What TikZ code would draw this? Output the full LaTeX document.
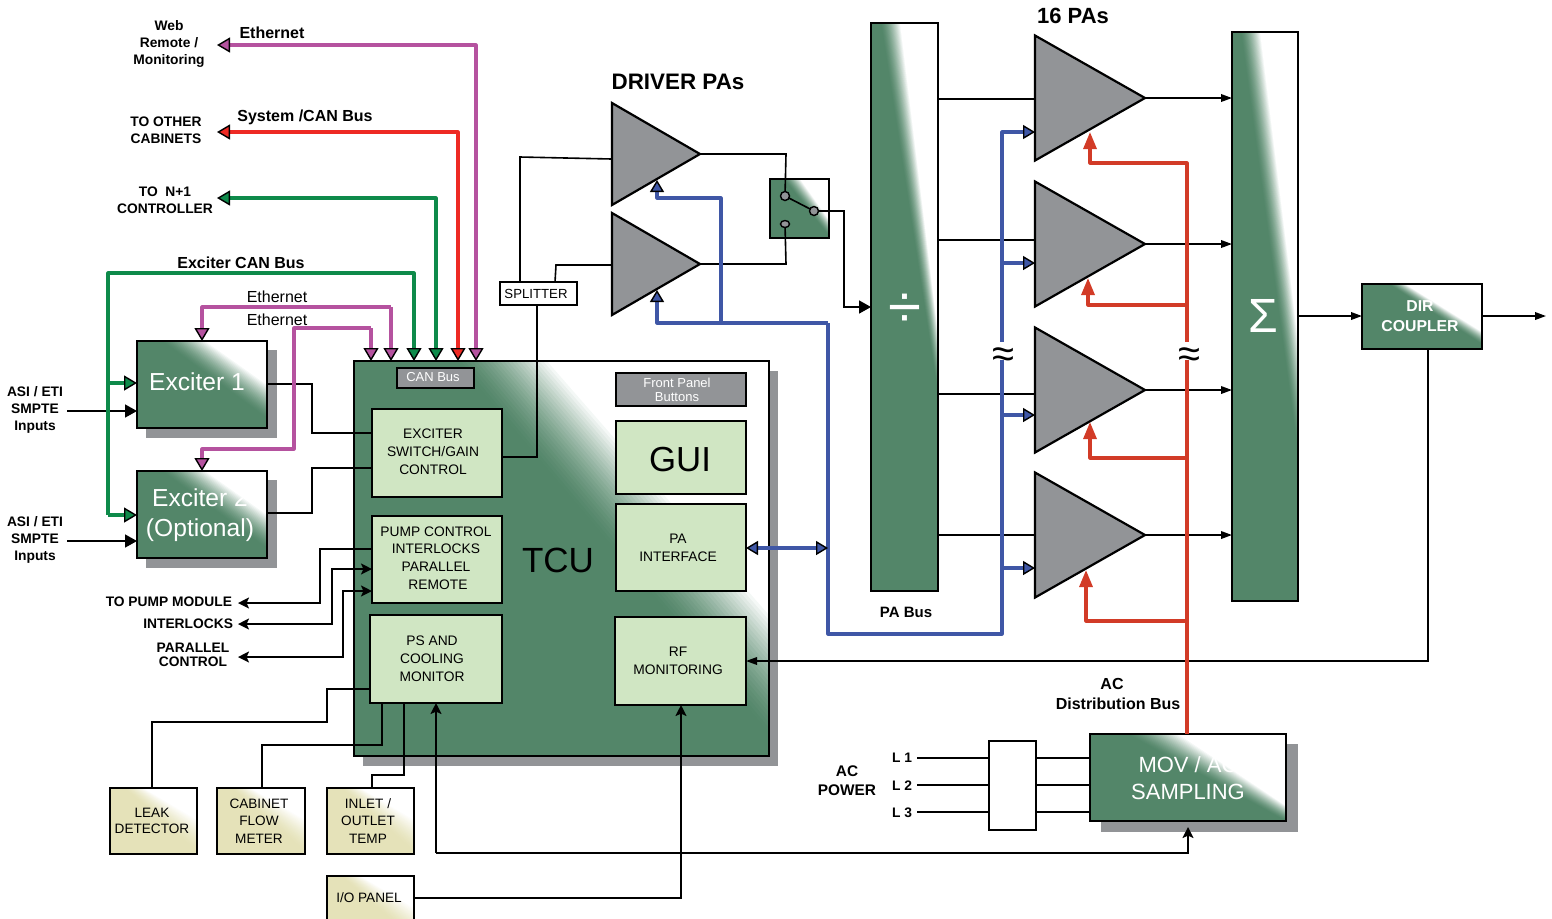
\documentclass[tikz,border=0pt]{standalone}
\usepackage{fontspec}
\setmainfont{Liberation Sans}
\usetikzlibrary{arrows.meta,shapes.geometric}
\definecolor{gn}{HTML}{538669}
\definecolor{shgray}{HTML}{929497}
\definecolor{lgreen}{HTML}{D0E6C3}
\definecolor{beige}{HTML}{E5E2B9}
\definecolor{cpink}{HTML}{B5529F}
\definecolor{cred}{HTML}{EE2A24}
\definecolor{cgrn}{HTML}{0E8A4A}
\definecolor{cblue}{HTML}{3F57A6}
\definecolor{cdred}{HTML}{D23B27}
% diagonal fade towards white in the top right corner
\newcommand\gradfill[9]{%
  \begin{scope}
    \clip (#1,#2) rectangle (#3,#4);
    \fill[#5] (#1,#2) rectangle (#3,#4);
    \foreach \i in {1,...,24}{%
      \pgfmathsetmacro\tt{\i/24}%
      \pgfmathsetmacro\pp{100*(1-\tt^1.5)}%
      \fill[#5!\pp!white] ({#6+(#8-#6)*\tt},#2) -- (#3,{#7+(#9-#7)*\tt}) -- (#3,#2) -- cycle;
    }
  \end{scope}}
\tikzset{
  corners/.style n args={4}{at={({(#1+#3)/2},{(#2+#4)/2})},minimum width={(#3-#1)*0.5pt},minimum height={(#4-#2)*0.5pt}},
  bx/.style={draw=black,line width=1pt,inner sep=0pt,outer sep=0pt,rectangle},
  inner/.style={bx,fill=lgreen},
  grey/.style={bx,fill=shgray,line width=.9pt},
  lbl/.style={inner sep=0pt,outer sep=0pt,align=center,text=black},
  t69/.style={lbl,font=\fontsize{6.9}{8.9}\selectfont},
  t65w/.style={lbl,text=white,font=\fontsize{6.5}{7}\selectfont},
  t68/.style={lbl,font=\fontsize{6.8}{8.8}\selectfont},
  b7/.style={lbl,font=\bfseries\fontsize{6.9}{8.7}\selectfont},
  b8/.style={lbl,font=\bfseries\fontsize{8}{10}\selectfont},
  bigw/.style={lbl,text=white,font=\fontsize{12.3}{15}\selectfont},
  amp/.style={isosceles triangle,isosceles triangle stretches,shape border rotate=0,draw=black,fill=shgray,line width=1.1pt,inner sep=0pt,outer sep=0pt,anchor=lower side},
  wire/.style={draw=black,line width=.8pt,line join=miter},
  arr/.style={wire,-{Triangle[length=6pt,width=6.5pt]}},
  arrs/.style={wire,-{Triangle[length=5.5pt,width=3.8pt]}},
  arrl/.style={wire,-{Stealth[length=5.5pt,width=5.5pt,inset=1.2pt]}},
  hvy/.style={line width=1.6pt,line join=round},
  pinkl/.style={hvy,draw=cpink,-{Triangle[length=6.5pt,width=7.5pt,line width=.7pt,color=black,fill=cpink]}},
  pinkb/.style={hvy,draw=cpink,{Triangle[length=6.5pt,width=7.5pt,line width=.7pt,color=black,fill=cpink]}-{Triangle[length=6.5pt,width=7.5pt,line width=.7pt,color=black,fill=cpink]}},
  redb/.style={hvy,draw=cred,{Triangle[length=6.5pt,width=7.5pt,line width=.7pt,color=black,fill=cred]}-{Triangle[length=6.5pt,width=7.5pt,line width=.7pt,color=black,fill=cred]}},
  grnl/.style={hvy,draw=cgrn,-{Triangle[length=6.5pt,width=7.5pt,line width=.7pt,color=black,fill=cgrn]}},
  grnb/.style={hvy,draw=cgrn,{Triangle[length=6.5pt,width=7.5pt,line width=.7pt,color=black,fill=cgrn]}-{Triangle[length=6.5pt,width=7.5pt,line width=.7pt,color=black,fill=cgrn]}},
  bluel/.style={hvy,draw=cblue,-{Triangle[length=6pt,width=7pt,line width=.7pt,color=black,fill=cblue]}},
  blueb/.style={hvy,draw=cblue,{Triangle[length=6pt,width=7pt,line width=.7pt,color=black,fill=cblue]}-{Triangle[length=6pt,width=7pt,line width=.7pt,color=black,fill=cblue]}},
  dredl/.style={hvy,draw=cdred,-{Triangle[length=8.5pt,width=6.5pt,color=cdred]}},
  contact/.style={circle,draw=black,fill=shgray,line width=.7pt,minimum size=4.5pt,inner sep=0pt,outer sep=0pt},
  contacte/.style={ellipse,draw=black,fill=shgray,line width=.7pt,minimum width=4.5pt,minimum height=3.5pt,inner sep=0pt,outer sep=0pt},
  brk/.style={lbl,fill=white,minimum width=13pt,minimum height=9pt,font=\fontsize{20}{20}\selectfont},
}
\begin{document}
\begin{tikzpicture}[x=0.5pt,y=-0.5pt]
\useasboundingbox (0,0) rectangle (1552,918);
% ---------- shadows
\fill[shgray] (146,350) rectangle (277,438);
\fill[shgray] (146,480) rectangle (277,568);
\fill[shgray] (363,371) rectangle (778,766);
\fill[shgray] (1101,744) rectangle (1298,832);
% ---------- fades
\gradfill{137}{341}{267}{428}{gn}{160}{420}{205}{385}
\gradfill{137}{471}{267}{558}{gn}{160}{550}{205}{515}
\gradfill{354}{361}{769}{756}{gn}{453}{738}{547}{615}
\gradfill{871}{23}{938}{591}{gn}{880}{398}{900}{333}
\gradfill{1232}{32}{1298}{601}{gn}{1240}{460}{1260}{340}
\gradfill{1090}{734}{1286}{821}{gn}{1125}{822}{1178}{806}
\gradfill{1362}{284}{1482}{349}{gn}{1388}{345}{1405}{332}
\gradfill{770}{179}{829}{238}{gn}{783}{237}{800}{220}
\gradfill{110}{788}{197}{854}{beige}{123}{853}{143}{820}
\gradfill{217}{788}{305}{854}{beige}{230}{853}{250}{820}
\gradfill{327}{788}{414}{854}{beige}{340}{853}{360}{820}
\gradfill{327}{876}{414}{930}{beige}{340}{941}{360}{908}
% ---------- boxes
\node[bx,corners={137}{341}{267}{428}] (ex1) {};
\node[bx,corners={137}{471}{267}{558}] (ex2) {};
\node[bx,corners={354}{361}{769}{756}] (tcu) {};
\node[grey,corners={397}{368}{474}{388}] (can) {};
\node[grey,corners={616}{373}{746}{406}] (fp) {};
\node[inner,corners={372}{409}{502}{497}] (esw) {};
\node[inner,corners={372}{516}{502}{603}] (pump) {};
\node[inner,corners={370}{615}{502}{703}] (ps) {};
\node[inner,corners={616}{421}{746}{494}] (gui) {};
\node[inner,corners={616}{504}{746}{591}] (paif) {};
\node[inner,corners={615}{617}{746}{705}] (rf) {};
\node[bx,corners={110}{788}{197}{854}] (leak) {};
\node[bx,corners={217}{788}{305}{854}] (cab) {};
\node[bx,corners={327}{788}{414}{854}] (inl) {};
\node[bx,corners={327}{876}{414}{930}] (io) {};
\node[bx,line width=.9pt,fill=white,corners={500}{282}{577}{305}] (split) {};
\node[bx,line width=.9pt,corners={770}{179}{829}{238}] (sw) {};
\node[bx,corners={871}{23}{938}{591}] (div) {};
\node[bx,corners={1232}{32}{1298}{601}] (sum) {};
\node[bx,corners={1362}{284}{1482}{349}] (dir) {};
\node[bx,corners={1090}{734}{1286}{821}] (mov) {};
\node[bx,fill=white,line width=.9pt,corners={989}{741}{1036}{830}] (acbox) {};
% ---------- free ends
\coordinate (eth0) at (217,45);
\coordinate (sys0) at (217,132);
\coordinate (npl0) at (217,198);
\coordinate (in1) at (67,411);
\coordinate (in2) at (67,541);
\coordinate (pumpout) at (238,603);
\coordinate (intout) at (238,624);
\coordinate (parout) at (238,657);
\coordinate (l1) at (917,758);
\coordinate (l2) at (917,785);
\coordinate (l3) at (917,812);
\coordinate (rfout) at (1546,316);
% ---------- amplifiers
\node[amp,minimum height=88*0.5pt,minimum width=102*0.5pt] (d1) at (612,154) {};
\node[amp,minimum height=88*0.5pt,minimum width=102*0.5pt] (d2) at (612,264) {};
\node[amp,minimum height=110*0.5pt,minimum width=125*0.5pt] (p1) at (1035,98) {};
\node[amp,minimum height=110*0.5pt,minimum width=125*0.5pt] (p2) at (1035,244) {};
\node[amp,minimum height=110*0.5pt,minimum width=125*0.5pt] (p3) at (1035,390) {};
\node[amp,minimum height=110*0.5pt,minimum width=125*0.5pt] (p4) at (1035,535) {};
% ---------- switch
\node[contact] (c1) at (785,196) {};
\node[contact] (c2) at (814,211) {};
\node[contacte] (c3) at (785,224) {};
% ---------- black wiring
\draw[wire] (ex1.east |- 0,384) -- (312,384) -- (312,433) -- (esw.west |- 0,433);
\draw[wire] (ex2.east |- 0,513) -- (312,513) -- (312,468) -- (esw.west |- 0,468);
\draw[arr] (in1) -- (ex1.west |- in1);
\draw[arr] (in2) -- (ex2.west |- in2);
\draw[wire] (esw.east |- 0,457) -- (537,457) -- (537,305);
\draw[wire] (520,0 |- split.north) -- (520,157) -- (d1.lower side |- 0,159);
\draw[wire] (555,0 |- split.north) -- (556,265) -- (d2.lower side |- 0,265);
\draw[wire] (d1.apex) -- (786,154) -- (c1);
\draw[wire] (d2.apex) -- (786,264) -- (c3);
\draw[wire] (c1) -- (c2);
\draw[arr] (c2) -- (844,211) -- (844,307) -- (div.west |- 0,307);
\draw[wire] (div.east |- 0,99) -- (p1.lower side |- 0,99);
\draw[wire] (div.east |- 0,240) -- (p2.lower side |- 0,240);
\draw[wire] (div.east |- 0,394) -- (p3.lower side |- 0,394);
\draw[wire] (div.east |- 0,535) -- (p4.lower side |- 0,535);
\draw[arrs] (p1.apex) -- (sum.west |- p1.apex);
\draw[arrs] (p2.apex) -- (sum.west |- p2.apex);
\draw[arrs] (p3.apex) -- (sum.west |- p3.apex);
\draw[arrs] (p4.apex) -- (sum.west |- p4.apex);
\draw[arrs] (sum.east |- 0,316) -- (dir.west |- 0,316);
\draw[arrs] (dir.east |- 0,316) -- (rfout);
\draw[arrs] (1428,0 |- dir.south) -- (1428,661) -- (rf.east |- 0,661);
\draw[arrl] (pump.west |- 0,549) -- (320,549) -- (320,603) -- (pumpout);
\draw[arrl] (332,569) -- (332,624) -- (intout);
\draw[arrl] (343,591) -- (343,657) -- (parout);
\draw[arrl] (332,624) -- (332,569) -- (pump.west |- 0,569);
\draw[arrl] (343,657) -- (343,591) -- (pump.west |- 0,591);
\draw[wire] (ps.west |- 0,689) -- (327,689) -- (327,722) -- (152,722) -- (152,0 |- leak.north);
\draw[wire] (382,0 |- ps.south) -- (382,745) -- (262,745) -- (262,0 |- cab.north);
\draw[wire] (404,0 |- ps.south) -- (404,775) -- (372,775) -- (372,0 |- inl.north);
\draw[arrl] (436,853) -- (436,0 |- ps.south);
\draw[arrl] (436,853) -- (1188,853) -- (1188,827);
\draw[arrl] (io.east |- 0,898) -- (681,898) -- (681,0 |- rf.south);
\draw[wire] (l1) -- (acbox.west |- l1);
\draw[wire] (l2) -- (acbox.west |- l2);
\draw[wire] (l3) -- (acbox.west |- l3);
\draw[wire] (acbox.east |- l1) -- (mov.west |- l1);
\draw[wire] (acbox.east |- l2) -- (mov.west |- l2);
\draw[wire] (acbox.east |- l3) -- (mov.west |- l3);
% ---------- heavy buses
\draw[pinkb] (476,0 |- tcu.north) -- (476,45) -- (eth0);
\draw[redb] (458,0 |- tcu.north) -- (458,132) -- (sys0);
\draw[grnb] (436,0 |- tcu.north) -- (436,198) -- (npl0);
\draw[hvy,draw=cgrn] (414,290) -- (414,273) -- (108,273) -- (108,515);
\draw[grnl] (108,515) -- (ex2.west |- 0,515);
\draw[grnl] (108,383) -- (ex1.west |- 0,383);
\draw[grnl] (414,280) -- (414,0 |- tcu.north);
\draw[pinkl] (391,307) -- (391,0 |- tcu.north);
\draw[pinkl] (391,307) -- (202,307) -- (202,0 |- ex1.north);
\draw[pinkl] (371,328) -- (371,0 |- tcu.north);
\draw[pinkl] (371,328) -- (294,328) -- (294,449) -- (202,449) -- (202,0 |- ex2.north);
\draw[bluel] (721,323) -- (721,198) -- (657,198) -- (657,180);
\draw[bluel] (828,323) -- (657,323) -- (657,290);
\draw[bluel] (828,323) -- (828,634) -- (1002,634) -- (1002,132) -- (p1.lower side |- 0,132);
\draw[bluel] (1002,263) -- (p2.lower side |- 0,263);
\draw[bluel] (1002,415) -- (p3.lower side |- 0,415);
\draw[bluel] (1002,568) -- (p4.lower side |- 0,568);
\draw[blueb] (paif.east |- 0,548) -- (828,548);
\draw[dredl] (1187,0 |- mov.north) -- (1187,163) -- (1090,163) -- (1090,132);
\draw[dredl] (1187,305) -- (1088,305) -- (1088,278);
\draw[dredl] (1187,458) -- (1090,458) -- (1090,422);
\draw[dredl] (1187,621) -- (1086,621) -- (1086,570);
\node[brk] (b1) at (1003,351) {\raisebox{-8pt}[0pt][0pt]{≈}};
\node[brk] (b2) at (1189,351) {\raisebox{-8pt}[0pt][0pt]{≈}};
% ---------- texts
\node[b7] (t1) at (169,44) {Web\\Remote /\\Monitoring};
\node[b8] (t2) at (272,33) {Ethernet};
\node[b8] (t3) at (305,117) {System /CAN Bus};
\node[b7] (t4) at (166,130) {TO OTHER\\CABINETS};
\node[b7] (t5) at (165,200) {TO\ \ N+1\\CONTROLLER};
\node[b8] (t6) at (241,263) {Exciter CAN Bus};
\node[lbl,font=\fontsize{8}{10}\selectfont] (t7) at (277,297) {Ethernet};
\node[lbl,font=\fontsize{8}{10}\selectfont] (t8) at (277,320) {Ethernet};
\node[b7] (t9) at (35,410) {ASI / ETI\\SMPTE\\Inputs};
\node[b7] (t10) at (35,540) {ASI / ETI\\SMPTE\\Inputs};
\node[b7,anchor=east] (t11) at (232,602) {TO PUMP MODULE};
\node[b7,anchor=east] (t12) at (233,624) {INTERLOCKS};
\node[b7,font=\bfseries\fontsize{6.9}{7}\selectfont] (t13) at (193,655) {PARALLEL\\CONTROL};
\node[bigw] (t14) at (197,382) {Exciter 1};
\node[bigw] (t15) at (200,515) {Exciter 2\\(Optional)};
\node[t65w] (t16) at (433,377) {CAN Bus};
\node[t65w] (t17) at (677,390) {Front Panel\\Buttons};
\node[t69] (t18) at (433,452) {EXCITER\\SWITCH/GAIN\\CONTROL};
\node[t69] (t19) at (436,558) {PUMP CONTROL\\INTERLOCKS\\PARALLEL\\\hspace*{2pt}REMOTE};
\node[t69] (t20) at (432,659) {PS AND\\COOLING\\MONITOR};
\node[lbl,font=\fontsize{17.4}{20}\selectfont] (t21) at (680,460) {GUI};
\node[t69] (t22) at (678,548) {PA\\INTERFACE};
\node[t69] (t23) at (678,661) {RF\\MONITORING};
\node[lbl,font=\fontsize{17.5}{20}\selectfont] (t24) at (558,560) {TCU};
\node[t68,font=\fontsize{6.8}{7.7}\selectfont] (t25) at (152,821) {LEAK\\DETECTOR};
\node[t68] (t26) at (259,821) {CABINET\\FLOW\\METER};
\node[t68] (t27) at (368,821) {INLET /\\OUTLET\\TEMP};
\node[t68] (t28) at (369,898) {I/O PANEL};
\node[lbl,font=\fontsize{6.6}{8}\selectfont] (t29) at (536,294) {SPLITTER};
\node[lbl,font=\bfseries\fontsize{11.2}{13}\selectfont] (t30) at (678,82) {DRIVER PAs};
\node[lbl,font=\bfseries\fontsize{11}{13}\selectfont] (t31) at (1073,16) {16 PAs};
\node[lbl,text=white,font=\fontsize{30}{30}\selectfont] (t32) at (905,311) {÷};
\node[lbl,text=white,font=\fontsize{24}{24}\selectfont] (t33) at (1263,316) {Σ};
\node[lbl,font=\bfseries\fontsize{7.5}{9}\selectfont] (t34) at (906,612) {PA Bus};
\node[b8] (t35) at (1118,694) {\hspace*{-6pt}AC\\Distribution Bus};
\node[b8,font=\bfseries\fontsize{7.7}{9.5}\selectfont] (t36) at (847,781) {AC\\POWER};
\node[b7] (t37) at (902,758) {L 1};
\node[b7] (t38) at (902,786) {L 2};
\node[b7] (t39) at (902,813) {L 3};
\node[lbl,text=white,font=\fontsize{11}{13.5}\selectfont] (t40) at (1188,778) {MOV / AC\\SAMPLING};
\node[lbl,text=white,font=\bfseries\fontsize{7.9}{10}\selectfont] (t41) at (1420,316) {DIR\\COUPLER};
\end{tikzpicture}
\end{document}
